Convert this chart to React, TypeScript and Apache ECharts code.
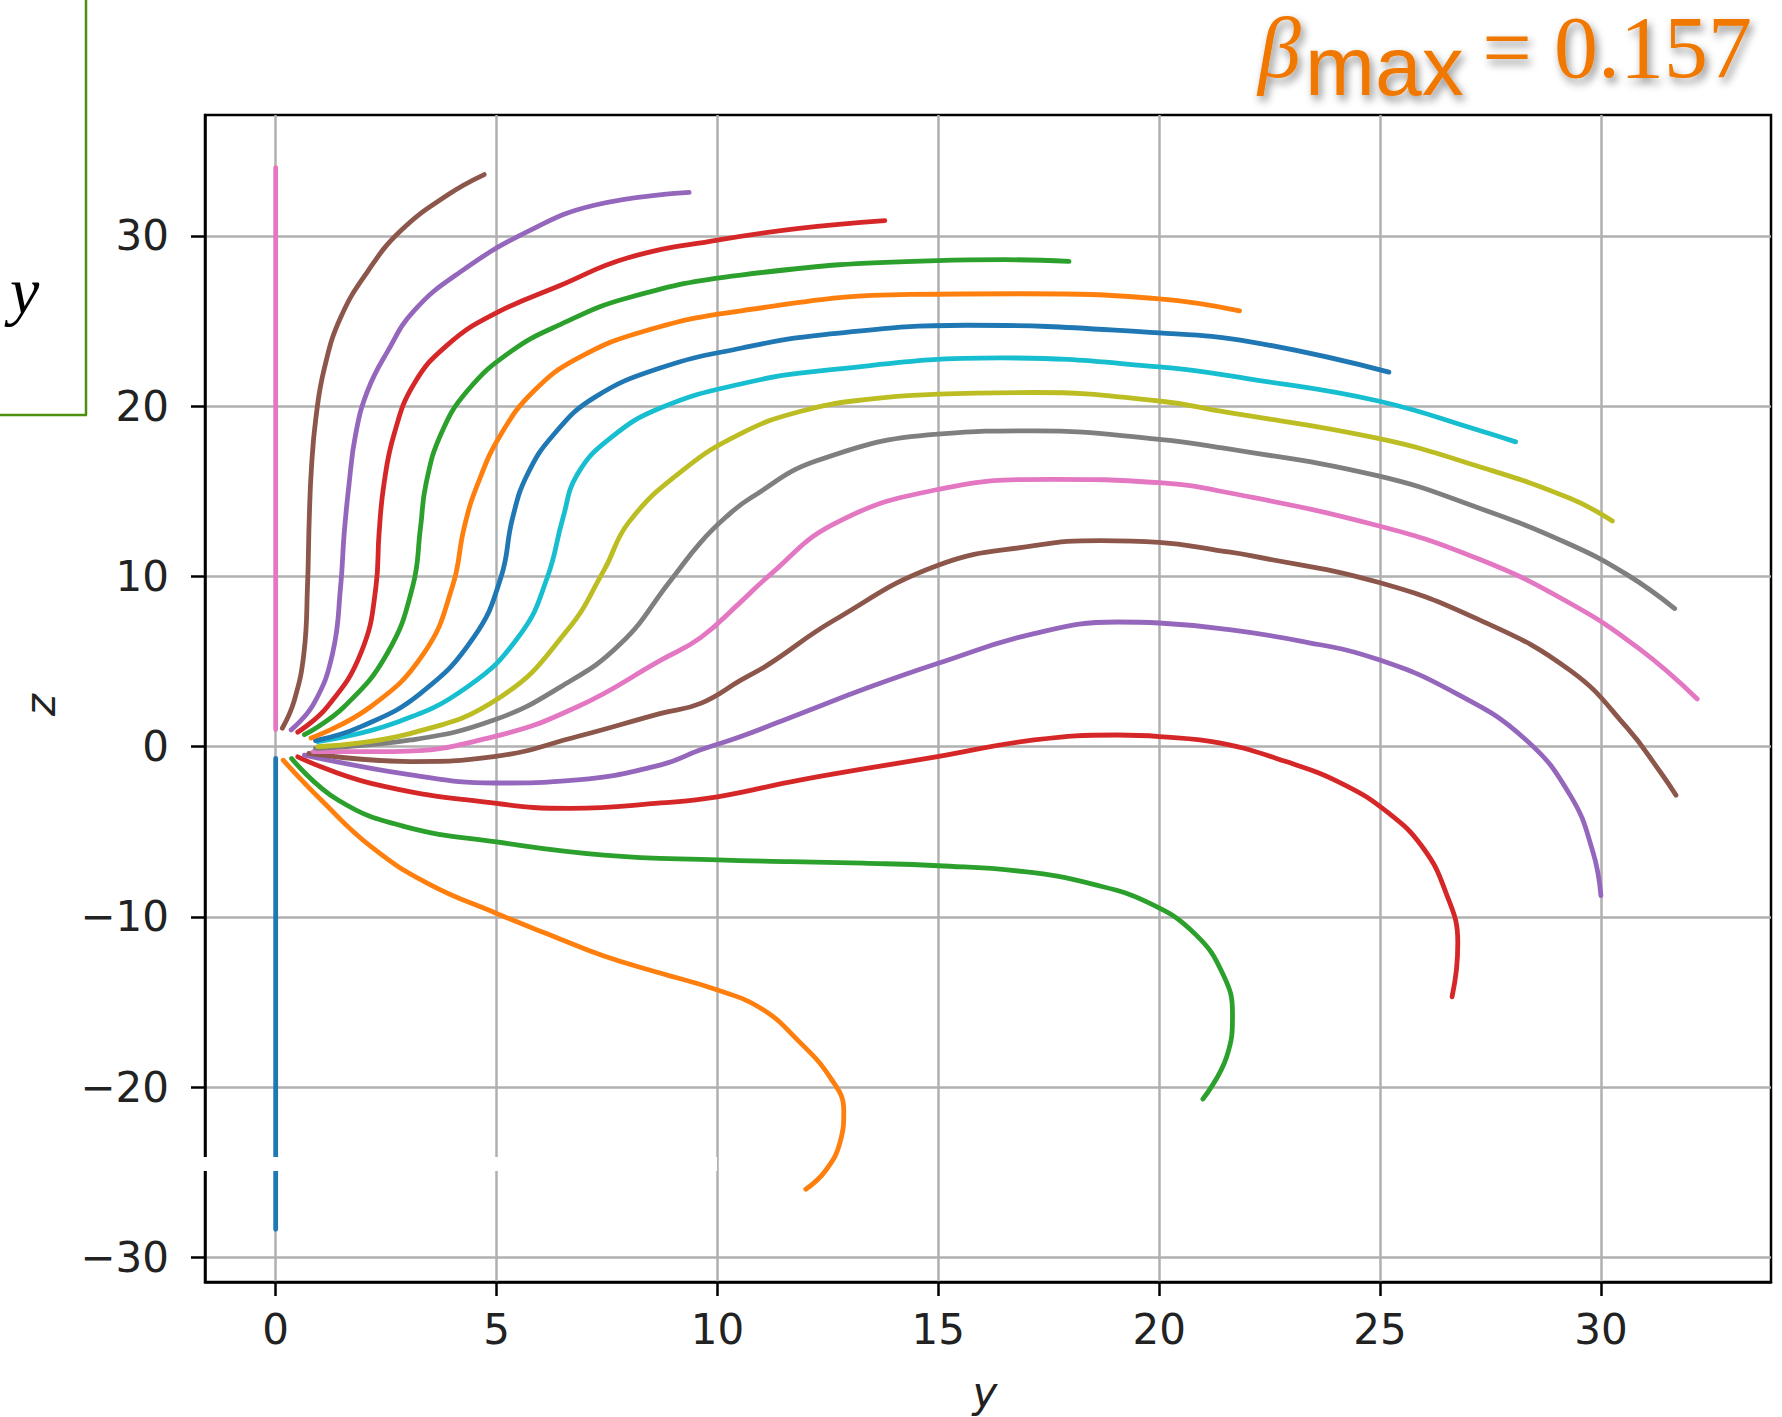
import React, { useEffect, useRef } from "react";
import * as echarts from "echarts";

// Axis ticks
const yTicks = [0, 5, 10, 15, 20, 25, 30];
const zTicks = [-30, -20, -10, 0, 10, 20, 30];
const palette = ["#1f77b4", "#ff7f0e", "#2ca02c", "#d62728", "#9467bd", "#8c564b", "#e377c2", "#7f7f7f", "#bcbd22", "#17becf"];

// Trajectories, [y, z] pairs
const traj01 = [[0, -0.7], [0, -28.35]];
const traj02 = [[0.17, -0.8], [1.03, -3.14], [2.16, -5.88], [3.44, -8.03], [5.0, -9.8], [6.2, -11.05], [7.43, -12.3], [8.7, -13.3], [10.0, -14.3], [11.0, -15.4], [11.8, -17.2], [12.57, -19.5], [12.86, -21.4], [12.78, -23.2], [12.45, -24.9], [12.0, -26.0]];
const traj03 = [[0.36, -0.7], [1.41, -3.14], [2.92, -4.7], [5.0, -5.6], [7.43, -6.37], [10.0, -6.66], [11.66, -6.76], [13.3, -6.85], [15.0, -7.0], [16.95, -7.35], [18.49, -8.08], [19.78, -9.2], [20.81, -11.0], [21.45, -13.4], [21.66, -15.7], [21.53, -18.2], [20.99, -20.7]];
const traj04 = [[0.5, -0.6], [2.16, -2.16], [5.0, -3.34], [6.68, -3.63], [8.72, -3.31], [10.0, -2.95], [11.89, -1.95], [14.98, -0.59], [17.17, 0.39], [19.05, 0.68], [20.0, 0.59], [21.39, 0.2], [22.87, -0.88], [24.16, -2.2], [25.19, -3.9], [25.96, -5.9], [26.48, -8.5], [26.76, -11.5], [26.73, -13.1], [26.63, -14.7]];
const traj05 = [[0.65, -0.5], [3.06, -1.66], [4.94, -2.14], [6.83, -1.95], [8.72, -1.07], [9.62, -0.19], [10.53, 0.59], [11.89, 1.95], [13.4, 3.45], [14.98, 4.88], [17.17, 6.64], [19.05, 7.32], [20.0, 7.26], [21.39, 6.93], [23.2, 6.2], [24.96, 5.11], [26.73, 3.11], [28.28, 0.45], [29.31, -2.88], [29.82, -6.2], [30.0, -8.75]];
const traj06 = [[0.75, -0.4], [3.06, -0.88], [4.94, -0.59], [6.83, 0.59], [8.72, 1.95], [9.62, 2.54], [10.53, 3.9], [11.14, 4.8], [12.64, 7.42], [14.98, 10.64], [17.17, 11.8], [18.68, 12.1], [20.0, 12.0], [21.39, 11.5], [22.1, 11.2], [24.96, 9.65], [27.25, 7.44], [29.31, 4.46], [30.59, 1.11], [31.36, -1.55], [31.7, -2.86]];
const traj07 = [[0.85, -0.3], [2.68, -0.29], [4.94, 0.59], [6.83, 2.34], [8.72, 5.08], [9.62, 6.4], [10.53, 8.5], [11.13, 9.95], [12.64, 13.08], [14.98, 15.1], [17.55, 15.7], [20.0, 15.5], [21.39, 15.0], [24.96, 12.97], [27.25, 11.0], [29.28, 8.45], [30.85, 5.78], [32.18, 2.8]];
const traj08 = [[0.9, -0.1], [3.06, 0.39], [4.94, 1.56], [6.45, 3.51], [7.81, 6.05], [8.94, 9.76], [9.62, 12.0], [10.2, 13.5], [10.75, 14.6], [12.26, 16.8], [14.98, 18.35], [17.17, 18.55], [20.0, 18.05], [21.39, 17.56], [24.96, 15.9], [27.25, 14.0], [29.28, 11.9], [30.59, 10.1], [31.67, 8.11]];
const traj09 = [[0.95, 0.0], [3.06, 0.78], [5.1, 2.93], [6.6, 6.83], [7.43, 10.35], [8.0, 13.2], [9.2, 16.2], [10.54, 18.4], [11.89, 19.7], [13.39, 20.4], [14.98, 20.7], [17.17, 20.8], [20.0, 20.3], [21.39, 19.7], [24.96, 18.1], [27.25, 16.44], [29.31, 14.57], [30.26, 13.25]];
const traj10 = [[0.95, 0.29], [2.68, 1.37], [4.34, 3.51], [5.55, 6.64], [6.15, 9.95], [6.5, 13.4], [6.83, 16.0], [7.59, 18.15], [8.72, 19.9], [10.53, 21.3], [12.42, 22.1], [16.43, 22.83], [20.0, 22.3], [22.1, 21.57], [24.96, 20.3], [27.25, 18.57], [28.07, 17.9]];
const traj11 = [[0.9, 0.35], [1.93, 1.17], [3.28, 3.13], [4.49, 6.44], [5.1, 9.95], [5.36, 13.4], [5.7, 16.0], [6.3, 18.35], [7.21, 20.5], [8.72, 22.25], [10.53, 23.4], [12.42, 24.2], [15.64, 24.75], [20.0, 24.3], [22.1, 23.76], [25.2, 22.0]];
const traj12 = [[0.8, 0.5], [2.15, 2.34], [3.36, 5.5], [4.0, 9.4], [4.27, 12.9], [4.57, 15.4], [5.1, 18.35], [5.85, 20.9], [6.83, 22.8], [8.34, 24.4], [10.53, 25.6], [14.38, 26.56], [16.93, 26.6], [20.0, 26.3], [21.82, 25.6]];
const traj13 = [[0.65, 0.7], [1.55, 2.34], [2.53, 5.5], [3.1, 9.4], [3.28, 12.9], [3.4, 15.4], [3.74, 18.35], [4.34, 20.9], [5.32, 23.2], [6.45, 24.8], [7.96, 26.35], [10.53, 27.7], [14.98, 28.55], [16.5, 28.6], [17.96, 28.5]];
const traj14 = [[0.5, 0.85], [1.17, 2.34], [1.93, 5.5], [2.27, 9.4], [2.34, 12.5], [2.45, 15.4], [2.68, 18.35], [3.13, 21.3], [3.89, 23.6], [4.94, 25.4], [6.45, 27.1], [7.96, 28.7], [10.0, 29.75], [11.8, 30.43], [13.79, 30.9]];
const traj15 = [[0.35, 0.98], [0.87, 2.55], [1.29, 5.5], [1.47, 9.4], [1.55, 12.5], [1.66, 15.4], [1.81, 18.35], [2.08, 20.9], [2.53, 23.2], [3.13, 25.6], [4.19, 27.9], [5.7, 30.25], [7.21, 31.8], [9.36, 32.55]];
const traj16 = [[0.15, 1.08], [0.42, 2.7], [0.64, 5.5], [0.72, 9.4], [0.76, 13.4], [0.81, 16.4], [0.91, 19.3], [1.1, 22.2], [1.47, 25.2], [2.08, 27.9], [2.83, 30.3], [3.89, 32.4], [4.72, 33.6]];
const traj17 = [[0, 1.0], [0, 34.0]];

const trajectories = [traj01, traj02, traj03, traj04, traj05, traj06, traj07, traj08, traj09, traj10, traj11, traj12, traj13, traj14, traj15, traj16, traj17];

const fmtMinus = (v: number) => (v < 0 ? "\u2212" + Math.abs(v) : String(v));

export default function App() {
  const ref = useRef<HTMLDivElement>(null);
  useEffect(() => {
    document.body.style.margin = "0";
    document.body.style.overflow = "hidden";
    const chart = echarts.init(ref.current!, null, { renderer: "svg" });
    const orange = "#F07800";
    const shadow = {
      textShadowColor: "rgba(0,0,0,0.45)",
      textShadowBlur: 8,
      textShadowOffsetX: 3,
      textShadowOffsetY: 5,
    };
    const option: any = {
      animation: false,
      backgroundColor: "#ffffff",
      grid: {
        left: 205,
        right: 11,
        top: 115,
        bottom: 135,
        containLabel: false,
        outerBoundsMode: "none",
        show: true,
        borderColor: "#000",
        borderWidth: 2.5,
        backgroundColor: "transparent",
      },
      xAxis: {
        type: "value",
        min: -1.6,
        max: 33.85,
        splitNumber: 7,
        axisLine: { show: true, onZero: false, lineStyle: { color: "#000", width: 2.5 } },
        axisTick: { show: true, customValues: yTicks, length: 14, inside: false, lineStyle: { color: "#000", width: 2.5 } },
        axisLabel: { customValues: yTicks, margin: 26, fontSize: 42, fontFamily: "DejaVu Sans", color: "#222", formatter: fmtMinus },
        splitLine: { show: true, lineStyle: { color: "#b0b0b0", width: 2.5 } },
      },
      yAxis: {
        type: "value",
        min: -31.45,
        max: 37.1,
        splitNumber: 7,
        axisLine: { show: true, onZero: false, lineStyle: { color: "#000", width: 2.5 } },
        axisTick: { show: true, customValues: zTicks, length: 14, inside: false, lineStyle: { color: "#000", width: 2.5 } },
        axisLabel: { customValues: zTicks, margin: 36, fontSize: 42, fontFamily: "DejaVu Sans", color: "#222", formatter: fmtMinus },
        splitLine: { show: true, lineStyle: { color: "#b0b0b0", width: 2.5 } },
      },
      series: trajectories.map((d, i) => ({
        type: "line",
        data: d,
        showSymbol: false,
        symbol: "none",
        smooth: 0.45,
        silent: true,
        lineStyle: { width: 4.8, color: palette[i % 10], cap: "round", join: "round" },
        itemStyle: { color: palette[i % 10] },
      })),
      graphic: [
        { type: "line", z: 100, shape: { x1: 86, y1: 0, x2: 86, y2: 415 }, style: { stroke: "#4c9010", lineWidth: 2.5 } },
        { type: "line", z: 100, shape: { x1: 0, y1: 415, x2: 87, y2: 415 }, style: { stroke: "#4c9010", lineWidth: 2.5 } },
        { type: "text", z: 100, x: 10, y: 290, style: { text: "y", font: "italic 66px 'Liberation Serif'", fill: "#000", align: "left", verticalAlign: "middle" } },
        { type: "rect", z: 100, shape: { x: 195, y: 1157, width: 522, height: 14 }, style: { fill: "#ffffff" } },
        { type: "text", z: 100, x: 40, y: 705, rotation: Math.PI / 2, style: { text: "z", font: "italic 42px 'DejaVu Sans'", fill: "#222", align: "center", verticalAlign: "middle" } },
        { type: "text", z: 100, x: 985, y: 1392, style: { text: "y", font: "italic 42px 'DejaVu Sans'", fill: "#222", align: "center", verticalAlign: "middle" } },
        { type: "text", z: 100, x: 1258, y: 48, style: { text: "β", font: "italic 86px 'Liberation Serif'", lineHeight: 80, fill: orange, align: "left", verticalAlign: "middle", ...shadow } },
        { type: "text", z: 100, x: 1305, y: 66, style: { text: "max", font: "84px 'Liberation Sans'", lineHeight: 80, fill: orange, align: "left", verticalAlign: "middle", ...shadow } },
        { type: "text", z: 100, x: 1752, y: 47, style: { text: "= 0.157", font: "88px 'Liberation Serif'", lineHeight: 80, fill: orange, align: "right", verticalAlign: "middle", ...shadow } },
      ],
    };
    chart.setOption(option);
    return () => chart.dispose();
  }, []);
  return <div ref={ref} style={{ position: "absolute", left: 0, top: 0, width: 1782, height: 1417, background: "#fff" }} />;
}
